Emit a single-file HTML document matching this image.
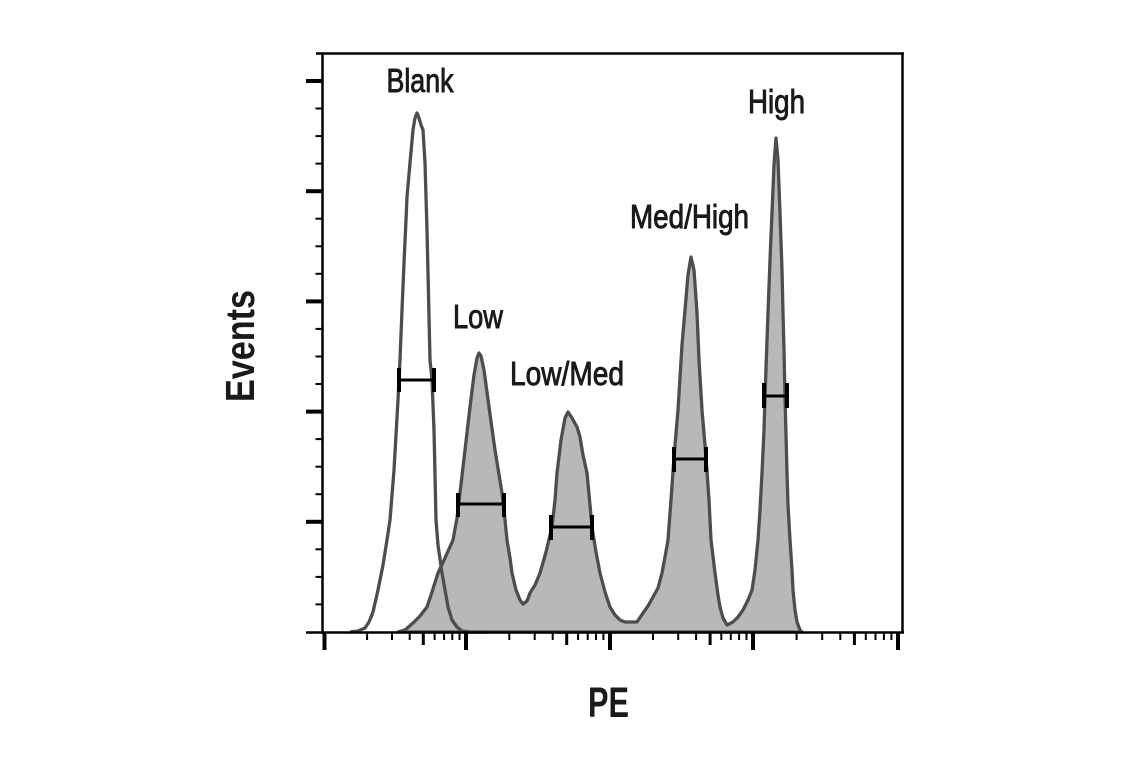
<!DOCTYPE html>
<html><head><meta charset="utf-8"><style>
html,body{margin:0;padding:0;background:#fff;}
svg{display:block;}
text{font-family:"Liberation Sans",sans-serif;}
</style></head><body>
<svg width="1141" height="768" viewBox="0 0 1141 768" xmlns="http://www.w3.org/2000/svg">
<rect width="1141" height="768" fill="#fff"/>
<!-- filled histograms -->
<polygon fill="#b8b8b8" stroke="#4d4d4d" stroke-width="3.3" stroke-linejoin="round" points="
398,632 405,630 413,623 420,616 427,607 432,592 438,573 445,558 453,540 457,518 460,493 465,450 470,407 474,375 477,358 479,353 481,356 484,370 489,407 495,450 502,493 505,520 507,540 510,558 512,573 516,590 520,600 523,604 527,601 530,593 535,585 540,573 546,552 552,527 555,500 557,473 561,440 565,418 568,412 572,418 577,427 580,437 583,455 587,473 590,505 592,527 596,552 600,573 605,592 610,607 615,615 620,620 625,622 637,622
643,613 648,606 653,597 658,588 662,573 665,557 668,540 671,500 674,457 678,410 682,345 685,310 688,275 691,257 694,270 697,313 699,360 702,410 706,457 709,500 711,540 715,573 718,595 720,607 723,618 727,625
733,622 738,617 743,610 748,600 752,590 755,570 758,540 760,510 762,473 764,430 765,397 767,340 768,313 770,260 772,213 774,165 776,138 778,160 780,213 782,270 783,313 784,350 785,397 787,473 788,505 790,540 792,570 793,590 795,610 797,622 800,630 802,632"/>
<!-- blank -->
<polyline fill="none" stroke="#4d4d4d" stroke-width="3.3" stroke-linejoin="round" points="
350,632 358,631 365,628 369,622 373,612 378,590 383,565 387,540 390,520 394,470 398,400 400,360 402,310 404,263 406,220 407,197 410,163 413,130 415,118 417,113 419,118 421,125 423,130 425,163 427,230 430,360 432,380 434,430 436,520 438,545 442,573 448,607 452,620 457,627 462,631 470,632 488,632"/>
<!-- bars -->
<g stroke="#000" fill="none">
<line x1="399" y1="380" x2="434" y2="380" stroke-width="3"/>
<line x1="399" y1="368" x2="399" y2="392" stroke-width="4"/>
<line x1="434" y1="368" x2="434" y2="392" stroke-width="4"/>
<line x1="458" y1="504" x2="504" y2="504" stroke-width="3"/>
<line x1="458" y1="493" x2="458" y2="517" stroke-width="4"/>
<line x1="504" y1="493" x2="504" y2="517" stroke-width="4"/>
<line x1="551" y1="527" x2="592" y2="527" stroke-width="3"/>
<line x1="551" y1="515" x2="551" y2="540" stroke-width="4"/>
<line x1="592" y1="515" x2="592" y2="540" stroke-width="4"/>
<line x1="674" y1="459" x2="706" y2="459" stroke-width="3"/>
<line x1="674" y1="447" x2="674" y2="472" stroke-width="4"/>
<line x1="706" y1="447" x2="706" y2="472" stroke-width="4"/>
<line x1="764" y1="396" x2="787" y2="396" stroke-width="3"/>
<line x1="764" y1="383" x2="764" y2="408" stroke-width="4"/>
<line x1="787" y1="383" x2="787" y2="408" stroke-width="4"/>
</g>
<!-- frame -->
<g stroke="#000" fill="none">
<line x1="316" y1="53.5" x2="904" y2="53.5" stroke-width="2.5"/>
<line x1="902.5" y1="52.5" x2="902.5" y2="633" stroke-width="2.5"/>
<line x1="322.5" y1="53" x2="322.5" y2="634" stroke-width="2.5"/>
<line x1="306" y1="632.5" x2="904" y2="632.5" stroke-width="2.5"/>
<g stroke-width="4">
<line x1="306" y1="81" x2="322" y2="81"/>
<line x1="306" y1="191.2" x2="322" y2="191.2"/>
<line x1="306" y1="301.4" x2="322" y2="301.4"/>
<line x1="306" y1="411.6" x2="322" y2="411.6"/>
<line x1="306" y1="521.8" x2="322" y2="521.8"/>
</g>
<g stroke-width="2">
<line x1="315.5" y1="108.5" x2="322" y2="108.5"/>
<line x1="315.5" y1="136.1" x2="322" y2="136.1"/>
<line x1="315.5" y1="163.6" x2="322" y2="163.6"/>
<line x1="315.5" y1="218.7" x2="322" y2="218.7"/>
<line x1="315.5" y1="246.3" x2="322" y2="246.3"/>
<line x1="315.5" y1="273.8" x2="322" y2="273.8"/>
<line x1="315.5" y1="328.9" x2="322" y2="328.9"/>
<line x1="315.5" y1="356.5" x2="322" y2="356.5"/>
<line x1="315.5" y1="384" x2="322" y2="384"/>
<line x1="315.5" y1="439.1" x2="322" y2="439.1"/>
<line x1="315.5" y1="466.7" x2="322" y2="466.7"/>
<line x1="315.5" y1="494.2" x2="322" y2="494.2"/>
<line x1="315.5" y1="549.3" x2="322" y2="549.3"/>
<line x1="315.5" y1="576.9" x2="322" y2="576.9"/>
<line x1="315.5" y1="604.4" x2="322" y2="604.4"/>
</g>
<g stroke-width="4">
<line x1="324.5" y1="632" x2="324.5" y2="650"/>
<line x1="466" y1="632" x2="466" y2="650"/>
<line x1="610" y1="632" x2="610" y2="650"/>
<line x1="753" y1="632" x2="753" y2="650"/>
<line x1="898" y1="632" x2="898" y2="650"/>
</g>
<g stroke-width="3">
<line x1="423.3" y1="632" x2="423.3" y2="645"/>
<line x1="566.7" y1="632" x2="566.7" y2="645"/>
<line x1="710.1" y1="632" x2="710.1" y2="645"/>
<line x1="854.4" y1="632" x2="854.4" y2="645"/>
</g>
<g stroke-width="2">
<line x1="367.1" y1="632" x2="367.1" y2="640"/>
<line x1="392" y1="632" x2="392" y2="640"/>
<line x1="409.7" y1="632" x2="409.7" y2="640"/>
<line x1="434.6" y1="632" x2="434.6" y2="640"/>
<line x1="444.1" y1="632" x2="444.1" y2="640"/>
<line x1="452.3" y1="632" x2="452.3" y2="640"/>
<line x1="459.5" y1="632" x2="459.5" y2="640"/>
<line x1="509.3" y1="632" x2="509.3" y2="640"/>
<line x1="534.7" y1="632" x2="534.7" y2="640"/>
<line x1="552.7" y1="632" x2="552.7" y2="640"/>
<line x1="578.1" y1="632" x2="578.1" y2="640"/>
<line x1="587.7" y1="632" x2="587.7" y2="640"/>
<line x1="596" y1="632" x2="596" y2="640"/>
<line x1="603.4" y1="632" x2="603.4" y2="640"/>
<line x1="653" y1="632" x2="653" y2="640"/>
<line x1="678.2" y1="632" x2="678.2" y2="640"/>
<line x1="696.1" y1="632" x2="696.1" y2="640"/>
<line x1="721.3" y1="632" x2="721.3" y2="640"/>
<line x1="730.8" y1="632" x2="730.8" y2="640"/>
<line x1="739.1" y1="632" x2="739.1" y2="640"/>
<line x1="746.5" y1="632" x2="746.5" y2="640"/>
<line x1="796.6" y1="632" x2="796.6" y2="640"/>
<line x1="822.2" y1="632" x2="822.2" y2="640"/>
<line x1="840.3" y1="632" x2="840.3" y2="640"/>
<line x1="865.8" y1="632" x2="865.8" y2="640"/>
<line x1="875.5" y1="632" x2="875.5" y2="640"/>
<line x1="883.9" y1="632" x2="883.9" y2="640"/>
<line x1="891.4" y1="632" x2="891.4" y2="640"/>
</g>
</g>
<!-- labels -->
<g fill="#1a1a1a" stroke="#1a1a1a" stroke-width="0.9" font-size="33">
<text x="386.5" y="92" textLength="67" lengthAdjust="spacingAndGlyphs">Blank</text>
<text x="453" y="328" textLength="50" lengthAdjust="spacingAndGlyphs">Low</text>
<text x="510" y="385" textLength="114" lengthAdjust="spacingAndGlyphs">Low/Med</text>
<text x="630" y="228" textLength="119" lengthAdjust="spacingAndGlyphs">Med/High</text>
<text x="748" y="113" textLength="57" lengthAdjust="spacingAndGlyphs">High</text>
</g>
<text x="588" y="717" font-size="43" font-weight="bold" fill="#1a1a1a" textLength="41" lengthAdjust="spacingAndGlyphs">PE</text>
<text transform="translate(254,346) rotate(-90)" text-anchor="middle" font-size="41" font-weight="bold" fill="#1a1a1a" textLength="112" lengthAdjust="spacingAndGlyphs">Events</text>
</svg>
</body></html>
